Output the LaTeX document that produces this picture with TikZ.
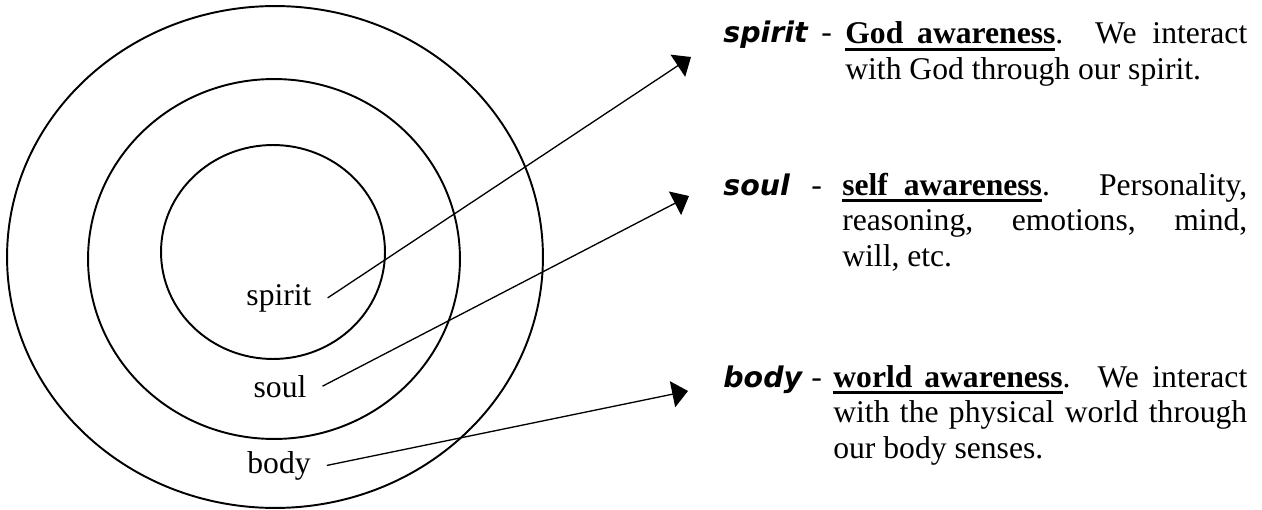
\documentclass[tikz,border=0pt]{standalone}
\usepackage{fontspec}
\setmainfont{Liberation Serif}
\newfontfamily\labfont{DejaVu Sans}
\usetikzlibrary{arrows.meta}
\newsavebox{\ulsave}
\newcommand{\ulbox}[1]{\sbox{\ulsave}{\textbf{#1}}\rlap{\rule[-3.9pt]{\wd\ulsave}{1.5pt}}\usebox{\ulsave}}
\begin{document}
\begin{tikzpicture}[x=0.02cm,y=-0.02cm]
	\tikzset{every node/.style={inner sep=0pt,font=\fontsize{18pt}{20.4pt}\selectfont},
		ring/.style={line width=1.1pt},
		pointer/.style={line width=0.75pt,-{Triangle[length=9pt,width=15pt]}},
		inlab/.style={anchor=base,inner xsep=9pt},
		lab/.style={anchor=base west,font=\fontsize{16.2pt}{18pt}\selectfont\labfont\bfseries\itshape},
		hyphenmark/.style={anchor=base west},
		desc/.style={anchor=base west,align=justify}}
	\useasboundingbox (0,0) rectangle (1262,510);
	% the three rings
	\draw [ring] (275,257) ellipse [x radius=5.36cm,y radius=5.02cm];
	\draw [ring] (274,259) ellipse [x radius=3.72cm,y radius=3.6cm];
	\draw [ring] (273,252) ellipse [x radius=2.24cm,y radius=2.14cm];
	\node (spiritin) [inlab] at (279,305) {spirit};
	\node (soulin) [inlab] at (280,397) {soul};
	\node (bodyin) [inlab] at (279,473) {body};
	% arrow tips
	\coordinate (spirittip) at (691,57);
	\coordinate (soultip) at (689,196);
	\coordinate (bodytip) at (688,391);
	\draw [pointer] (spiritin.east) -- (spirittip);
	\draw [pointer] (soulin.east) -- (soultip);
	\draw [pointer] (bodyin.east) -- (bodytip);
	% right column
	\node (spiritlab) [lab] at (723,43) {spirit};
	\node (spiritdash) [hyphenmark] at (821,43) {-};
	\node (spiritdesc) [desc,text width=8.04cm] at (845,44)
		{\ulbox{God\hspace{7.9pt}awareness}.\ \ We interact\linebreak with God through our spirit.};
	\node (soullab) [lab] at (723,195) {soul};
	\node (souldash) [hyphenmark] at (811,195) {-};
	\node (souldesc) [desc,text width=8.1cm] at (842,195)
		{\ulbox{self\hspace{9pt}awareness}.\ \ \ Personality,\linebreak reasoning, emotions, mind,\linebreak will, etc.};
	\node (bodylab) [lab] at (723,387) {body};
	\node (bodydash) [hyphenmark] at (811,387) {-};
	\node (bodydesc) [desc,text width=8.28cm] at (833,387)
		{\ulbox{world\hspace{6.8pt}awareness}.\ \ We interact\linebreak with the physical world through\linebreak our body senses.};
\end{tikzpicture}
\end{document}
